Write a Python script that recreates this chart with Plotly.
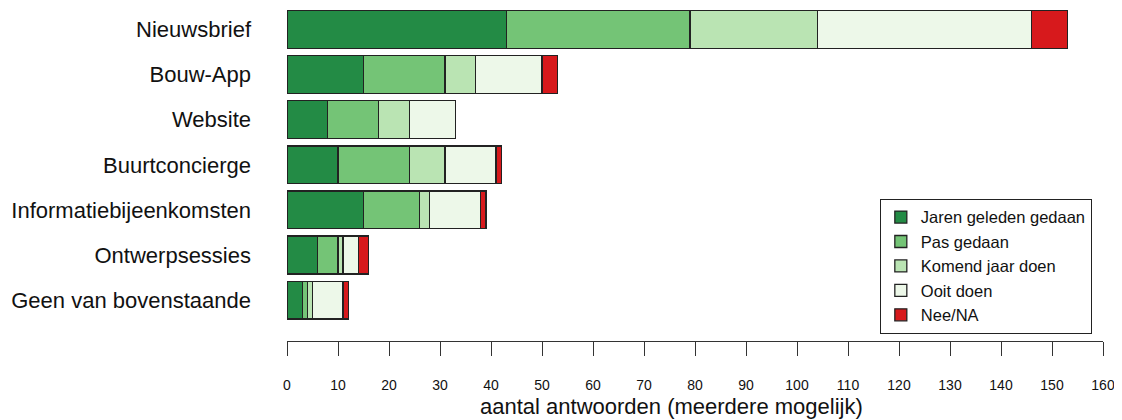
import plotly.graph_objects as go

categories = ["Nieuwsbrief", "Bouw-App", "Website", "Buurtconcierge",
              "Informatiebijeenkomsten", "Ontwerpsessies", "Geen van bovenstaande"]

series_names = ["Jaren geleden gedaan", "Pas gedaan", "Komend jaar doen", "Ooit doen", "Nee/NA"]

jaren_geleden = [43, 15, 8, 10, 15, 6, 3]
pas_gedaan = [36, 16, 10, 14, 11, 4, 1]
komend_jaar = [25, 6, 6, 7, 2, 1, 1]
ooit_doen = [42, 13, 9, 10, 10, 3, 6]
nee_na = [7, 3, 0, 1, 1, 2, 1]

series_values = [jaren_geleden, pas_gedaan, komend_jaar, ooit_doen, nee_na]
colors = ["#238b45", "#74c476", "#bae4b3", "#edf8e9", "#d7191c"]

x_ticks = list(range(0, 161, 10))
x_title = "aantal antwoorden (meerdere mogelijk)"

FONT = "Liberation Sans, Arial, sans-serif"

fig = go.Figure()
ypos = list(range(len(categories)))
for name, vals, col in zip(series_names, series_values, colors):
    fig.add_trace(go.Bar(
        y=ypos, x=vals, name=name, orientation="h",
        width=0.84,
        marker=dict(color=col, line=dict(color="#222222", width=1.3)),
    ))

# page has an 8px body margin, so the figure is sized/offset to compensate
fig.update_layout(
    width=1114, height=412,
    barmode="stack",
    plot_bgcolor="white", paper_bgcolor="white",
    margin=dict(l=279, r=19, t=0, b=79, autoexpand=False),
    font=dict(family=FONT, color="#111111"),
    showlegend=True,
    legend=dict(
        x=0.7265, y=0.427, xanchor="left", yanchor="top",
        traceorder="normal",
        bordercolor="#222222", borderwidth=1, bgcolor="white",
        font=dict(size=16.5, family=FONT, color="#111111"),
        itemwidth=30,
    ),
    xaxis=dict(
        range=[0, 160], tickvals=x_ticks, ticktext=[str(v) for v in x_ticks],
        showgrid=False, zeroline=False,
        showline=True, linecolor="#333333", linewidth=1,
        ticks="outside", ticklen=14, tickcolor="#333333", tickwidth=1,
        tickfont=dict(size=14, family=FONT, color="#111111"),
        ticklabelstandoff=17,
        automargin=False,
    ),
    yaxis=dict(
        range=[6.907, -0.4767],
        tickvals=ypos, ticktext=categories,
        showgrid=False, zeroline=False, showline=False, ticks="",
        tickfont=dict(size=22, family=FONT, color="#111111"),
        ticklabelstandoff=35,
        automargin=False,
    ),
    annotations=[dict(
        text=x_title, xref="paper", yref="paper", x=0.471, y=-0.198,
        xanchor="center", yanchor="middle", showarrow=False,
        font=dict(size=22, family=FONT, color="#111111"),
    )],
)

fig.write_html("out.html")
